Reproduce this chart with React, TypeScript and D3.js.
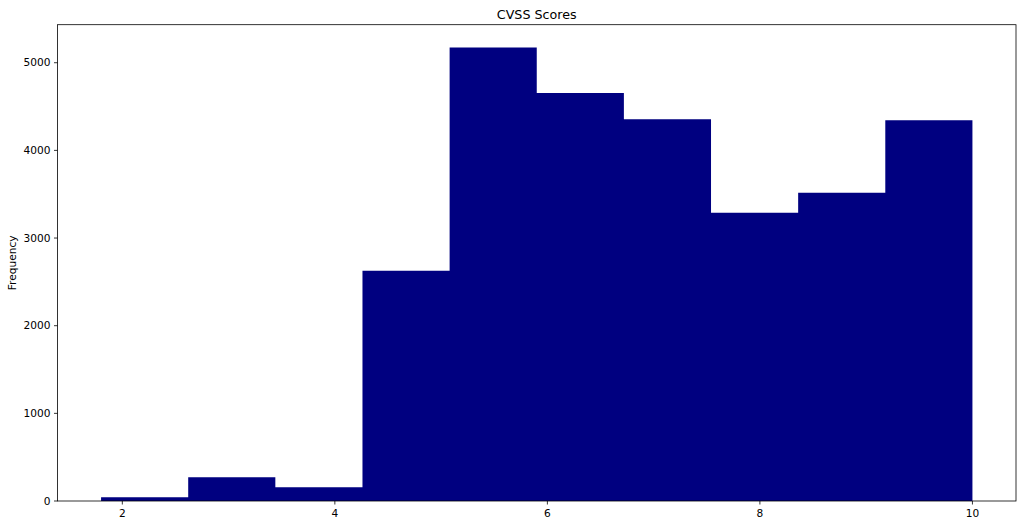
import React from "react";
import * as d3 from "d3";

const binEdges = [1.8, 2.62, 3.44, 4.26, 5.08, 5.9, 6.72, 7.54, 8.36, 9.18, 10.0];
const counts = [42, 270, 156, 2626, 5175, 4655, 4355, 3288, 3516, 4345];
const xTicks = [2, 4, 6, 8, 10];
const yTicks = [0, 1000, 2000, 3000, 4000, 5000];

const W = 1024, H = 527;
const M = { left: 57.5, right: 1016, top: 24.7, bottom: 501 };

export default function App() {
  const x = d3.scaleLinear().domain([1.39, 10.41]).range([M.left, M.right]);
  const yMax = d3.max(counts)! * 1.05;
  const y = d3.scaleLinear().domain([0, yMax]).range([M.bottom, M.top]);
  const font = "DejaVu Sans, sans-serif";
  const p = d3.path();
  p.moveTo(x(binEdges[0]), y(0));
  counts.forEach((c, i) => {
    p.lineTo(x(binEdges[i]), y(c));
    p.lineTo(x(binEdges[i + 1]), y(c));
  });
  p.lineTo(x(binEdges[binEdges.length - 1]), y(0));
  p.closePath();
  return (
    <svg width={W} height={H} style={{ position: "absolute", left: 0, top: 0 }} fontFamily={font}>
      <rect width={W} height={H} fill="#fff" />
      <path d={p.toString()} fill="#000080" />
      <rect x={M.left} y={M.top} width={M.right - M.left} height={M.bottom - M.top} fill="none" stroke="#000" strokeWidth={0.8} />
      {xTicks.map(t => (
        <g key={t} transform={`translate(${x(t)},${M.bottom})`}>
          <line y2={3.5} stroke="#000" strokeWidth={0.8} />
          <text y={15.5} textAnchor="middle" fontSize={10.6} fill="#000">{t}</text>
        </g>
      ))}
      {yTicks.map(t => (
        <g key={t} transform={`translate(${M.left},${y(t)})`}>
          <line x2={-3.5} stroke="#000" strokeWidth={0.8} />
          <text x={-7} dy="0.35em" textAnchor="end" fontSize={10.6} fill="#000">{t}</text>
        </g>
      ))}
      <text transform={`translate(16,${(M.top + M.bottom) / 2}) rotate(-90)`} textAnchor="middle" fontSize={10.6} fill="#000">Frequency</text>
      <text x={(M.left + M.right) / 2} y={19} textAnchor="middle" fontSize={12.7} fill="#000">CVSS Scores</text>
    </svg>
  );
}
